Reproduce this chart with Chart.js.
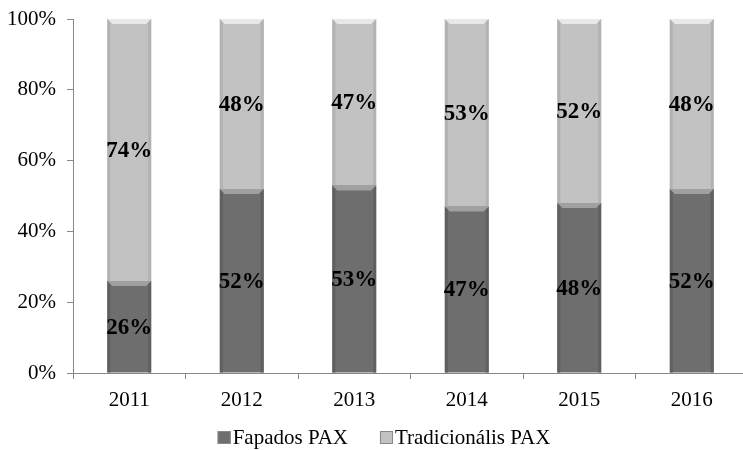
<!DOCTYPE html>
<html>
<head>
<meta charset="utf-8">
<script src="https://cdn.jsdelivr.net/npm/chart.js@4/dist/chart.umd.min.js"></script>
<style>
  html, body { margin: 0; padding: 0; background: #fff; overflow: hidden; }
</style>
</head>
<body>
<canvas id="myChart" width="748" height="450"></canvas>
<script>
const years = ['2011', '2012', '2013', '2014', '2015', '2016']
const fapados = [26, 52, 53, 47, 48, 52]
const tradicionalis = [74, 48, 47, 53, 52, 48]
const yTicks = [0, 20, 40, 60, 80, 100]

const serif = "'Liberation Serif', 'Times New Roman', serif"

// labels in the middle of every segment
const valueLabels = {
  id: 'valueLabels',
  afterDatasetsDraw (chart) {
    const ctx = chart.ctx
    ctx.save()
    ctx.font = 'bold 23px ' + serif
    ctx.fillStyle = '#000'
    ctx.textAlign = 'center'
    ctx.textBaseline = 'middle'
    chart.data.datasets.forEach((ds, i) => {
      chart.getDatasetMeta(i).data.forEach((bar, j) => {
        ctx.fillText(ds.data[j] + '%', bar.x, (bar.y + bar.base) / 2 + 1)
      })
    })
    ctx.restore()
  }
}

// little bevel like the office chart
const bevel = {
  id: 'bevel',
  afterDatasetsDraw (chart) {
    const ctx = chart.ctx
    const b = 5
    ctx.save()
    chart.data.datasets.forEach((ds, i) => {
      chart.getDatasetMeta(i).data.forEach(bar => {
        const l = bar.x - bar.width / 2
        const r = bar.x + bar.width / 2
        const t = bar.y
        const bt = bar.base
        ctx.fillStyle = ds.sideColor
        ctx.fillRect(l, t, 3, bt - t)
        ctx.fillRect(r - 3, t, 3, bt - t)
        ctx.beginPath()
        ctx.moveTo(l, t)
        ctx.lineTo(r, t)
        ctx.lineTo(r - b, t + b)
        ctx.lineTo(l + b, t + b)
        ctx.closePath()
        ctx.fillStyle = ds.topColor
        ctx.fill()
      })
    })
    ctx.restore()
  }
}

// legend drawn by hand so the box sits close to the text
const legendLine = {
  id: 'legendLine',
  afterDraw (chart) {
    const ctx = chart.ctx
    ctx.save()
    ctx.font = '21px ' + serif
    ctx.textBaseline = 'middle'
    const y = 437
    const gap = 32
    const items = chart.data.datasets.map(ds => ({ text: ds.label, color: ds.backgroundColor, w: 15 + ctx.measureText(ds.label).width }))
    const total = items.reduce((s, it) => s + it.w, 0) + gap * (items.length - 1)
    let x = 384 - total / 2
    items.forEach(it => {
      ctx.fillStyle = it.color
      ctx.fillRect(x, y - 6, 13, 13)
      ctx.strokeStyle = '#888'
      ctx.lineWidth = 1
      ctx.strokeRect(x + 0.5, y - 5.5, 12, 12)
      ctx.fillStyle = '#000'
      ctx.fillText(it.text, x + 15, y + 1)
      x += it.w + gap
    })
    ctx.restore()
  }
}

const config = {
  type: 'bar',
  data: {
    labels: years,
    datasets: [
      {
        label: 'Fapados PAX',
        data: fapados,
        backgroundColor: '#6e6e6e',
        sideColor: '#606060',
        topColor: '#a0a0a0',
        barPercentage: 0.39,
        categoryPercentage: 1
      },
      {
        label: 'Tradicionális PAX',
        data: tradicionalis,
        backgroundColor: '#c2c2c2',
        sideColor: '#b2b2b2',
        topColor: '#e8e8e8',
        barPercentage: 0.39,
        categoryPercentage: 1
      }
    ]
  },
  options: {
    responsive: false,
    animation: false,
    layout: { padding: { top: 19, right: 0, bottom: 37, left: 0 } },
    plugins: {
      legend: { display: false },
      tooltip: { enabled: false }
    },
    scales: {
      x: {
        stacked: true,
        afterFit: s => { s.height = 40 },
        grid: { drawOnChartArea: false, tickLength: 6, color: '#888' },
        border: { color: '#888' },
        ticks: { color: '#000', font: { family: serif, size: 21 }, padding: 9 }
      },
      y: {
        stacked: true,
        min: 0,
        max: 100,
        afterFit: s => {
          s.width = 73
          s.paddingTop = 0
          s.paddingBottom = 0
        },
        afterBuildTicks: s => { s.ticks = yTicks.map(v => ({ value: v })) },
        grid: { drawOnChartArea: false, tickLength: 6, color: '#888' },
        border: { color: '#888' },
        ticks: {
          color: '#000',
          font: { family: serif, size: 21 },
          padding: 11,
          callback: v => v + '%'
        }
      }
    }
  },
  plugins: [bevel, valueLabels, legendLine]
}

var myChart = new Chart(document.getElementById('myChart'), config)
</script>
</body>
</html>
